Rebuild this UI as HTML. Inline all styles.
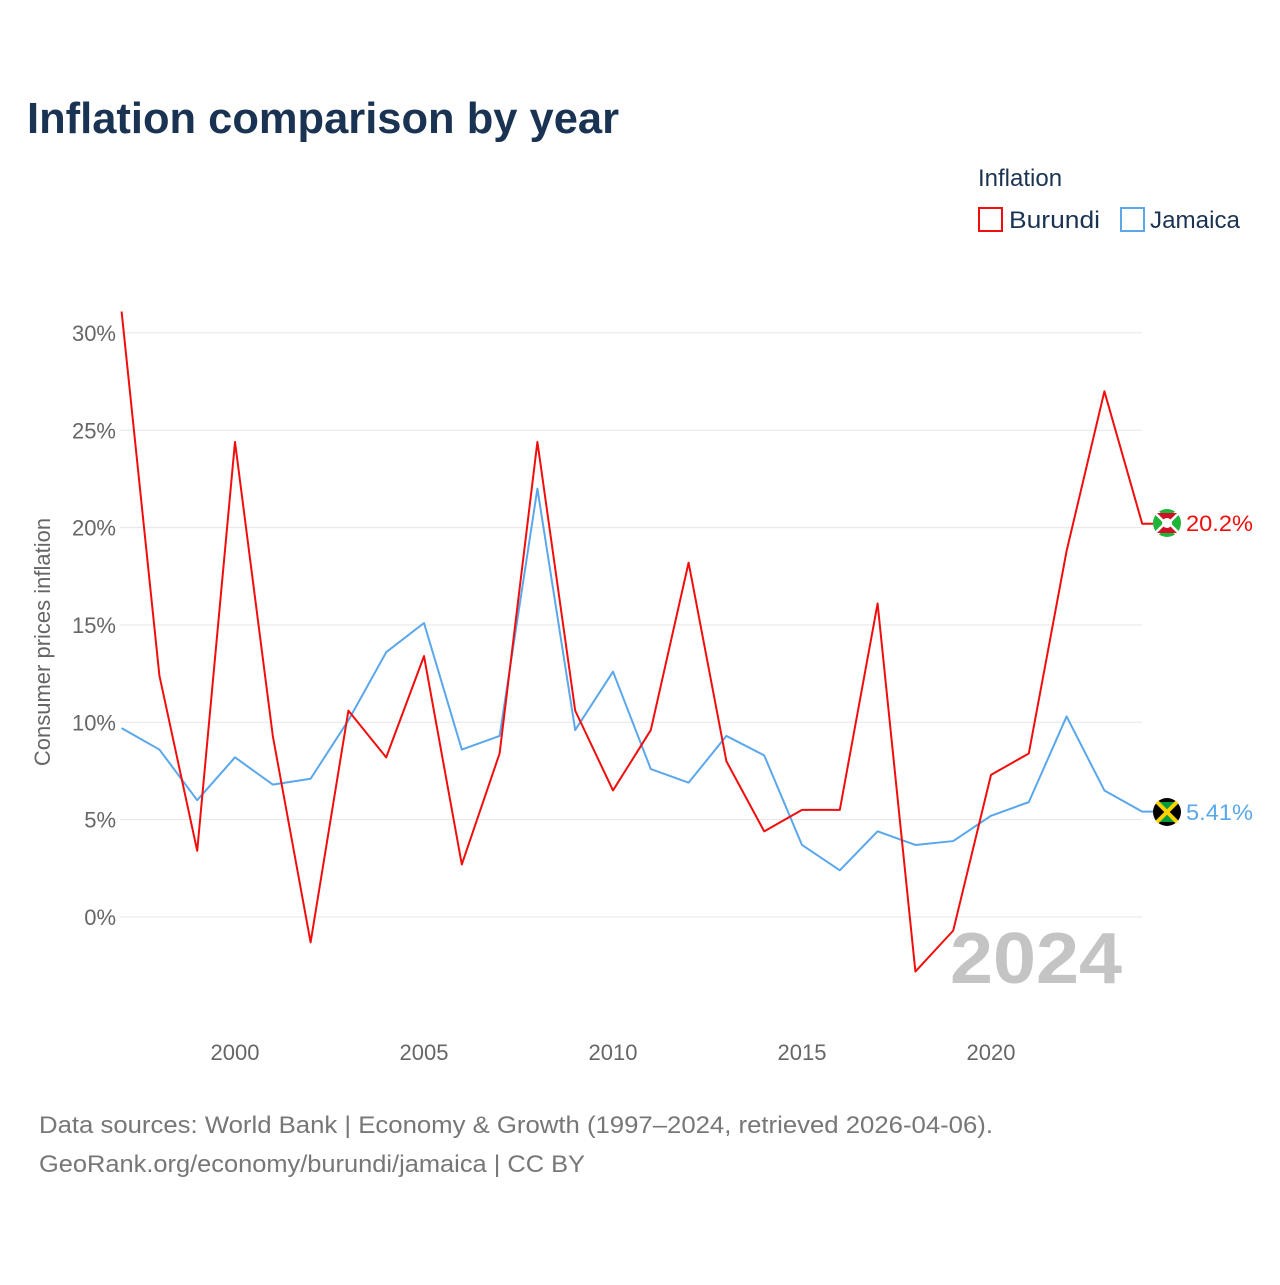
<!DOCTYPE html>
<html><head><meta charset="utf-8"><style>
body{margin:0;background:#fff;font-family:"Liberation Sans",sans-serif}
</style></head><body>
<svg id="chart" width="1280" height="1280" xmlns="http://www.w3.org/2000/svg" style="font-family:'Liberation Sans',sans-serif">
<text x="27" y="133" font-size="44" font-weight="bold" fill="#1b3353" textLength="592" lengthAdjust="spacingAndGlyphs">Inflation comparison by year</text>
<text x="978" y="186" font-size="24" fill="#1b3353">Inflation</text>
<g><rect x="979" y="208" width="23" height="23" fill="none" stroke="#f20d0d" stroke-width="2"/><text x="1009" y="228" font-size="24" fill="#1b3353" textLength="91" lengthAdjust="spacingAndGlyphs">Burundi</text></g>
<g><rect x="1121" y="208" width="23" height="23" fill="none" stroke="#5aa7ec" stroke-width="2"/><text x="1150" y="228" font-size="24" fill="#1b3353" textLength="90" lengthAdjust="spacingAndGlyphs">Jamaica</text></g>
<g id="grid"></g><g id="yticks"></g><g id="xticks"></g>
<text transform="translate(50,642) rotate(-90)" text-anchor="middle" font-size="22" fill="#666">Consumer prices inflation</text>
<text x="1122" y="983" text-anchor="end" font-size="72" font-weight="bold" fill="#c4c4c4" textLength="172" lengthAdjust="spacingAndGlyphs">2024</text>
<g id="lines"></g>
<g><circle cx="1167" cy="523" r="14" fill="#1eb53a"/><path d="M1157,513 L1177,533 M1177,513 L1157,533" stroke="#fff" stroke-width="5"/><path d="M1157,513 L1167,523 L1177,513 Z M1157,533 L1167,523 L1177,533 Z" fill="#ce1126"/><circle cx="1167" cy="523" r="5" fill="#fff"/></g>
<g><circle cx="1167" cy="812" r="14" fill="#000"/><path d="M1157,802 L1167,812 L1177,802 Z M1157,822 L1167,812 L1177,822 Z" fill="#009b3a"/><path d="M1157,802 L1177,822 M1177,802 L1157,822" stroke="#fed100" stroke-width="4"/></g>
<text x="1186" y="531" font-size="22" fill="#f20d0d" textLength="67" lengthAdjust="spacingAndGlyphs">20.2%</text>
<text x="1186" y="820" font-size="22" fill="#5aa7ec" textLength="67" lengthAdjust="spacingAndGlyphs">5.41%</text>
<text x="39" y="1133" font-size="24" fill="#777" textLength="954" lengthAdjust="spacingAndGlyphs">Data sources: World Bank | Economy &amp; Growth (1997–2024, retrieved 2026-04-06).</text>
<text x="39" y="1172" font-size="24" fill="#777" textLength="546" lengthAdjust="spacingAndGlyphs">GeoRank.org/economy/burundi/jamaica | CC BY</text>
</svg>
<script>
const years=[1997,1998,1999,2000,2001,2002,2003,2004,2005,2006,2007,2008,2009,2010,2011,2012,2013,2014,2015,2016,2017,2018,2019,2020,2021,2022,2023,2024];
const burundi=[31.1,12.4,3.4,24.4,9.3,-1.3,10.6,8.2,13.4,2.7,8.4,24.4,10.6,6.5,9.6,18.2,8.0,4.4,5.5,5.5,16.1,-2.8,-0.7,7.3,8.4,18.8,27.0,20.2];
const jamaica=[9.7,8.6,6.0,8.2,6.8,7.1,10.1,13.6,15.1,8.6,9.3,22.0,9.6,12.6,7.6,6.9,9.3,8.3,3.7,2.4,4.4,3.7,3.9,5.2,5.9,10.3,6.5,5.41];
const yTicks=[0,5,10,15,20,25,30];
const xTicks=[2000,2005,2010,2015,2020];
const NS="http://www.w3.org/2000/svg";
const X=y=>235+(y-2000)*37.8;
const Y=v=>917-v*19.47;
function mk(t,a,p){const e=document.createElementNS(NS,t);for(const k in a)e.setAttribute(k,a[k]);document.getElementById(p).appendChild(e);return e;}
yTicks.forEach(v=>{
 const l=mk('line',{x1:120,x2:1142,y1:Y(v),y2:Y(v),stroke:'#e6e6e6','stroke-width':1},'grid');
 
 
 const t=mk('text',{x:116,y:Y(v)+8,'text-anchor':'end','font-size':22,fill:'#666'},'yticks');
 t.textContent=v+'%';
 
 
});
xTicks.forEach(v=>{
 const t=mk('text',{x:X(v),y:1060,'text-anchor':'middle','font-size':22,fill:'#666'},'xticks');
 t.textContent=v;
 
 
});
function line(vals,color,name){
 let d=vals.map((v,i)=>(i?'L':'M')+X(years[i])+','+Y(v)).join(' ');
 d+=' L1153,'+Y(vals[vals.length-1]);
 const p=mk('path',{d:d,fill:'none',stroke:color,'stroke-width':2,'stroke-linejoin':'round'},'lines');
 
 
}
line(jamaica,'#5aa7ec','line-jamaica');
line(burundi,'#f20d0d','line-burundi');
</script>
</body></html>
